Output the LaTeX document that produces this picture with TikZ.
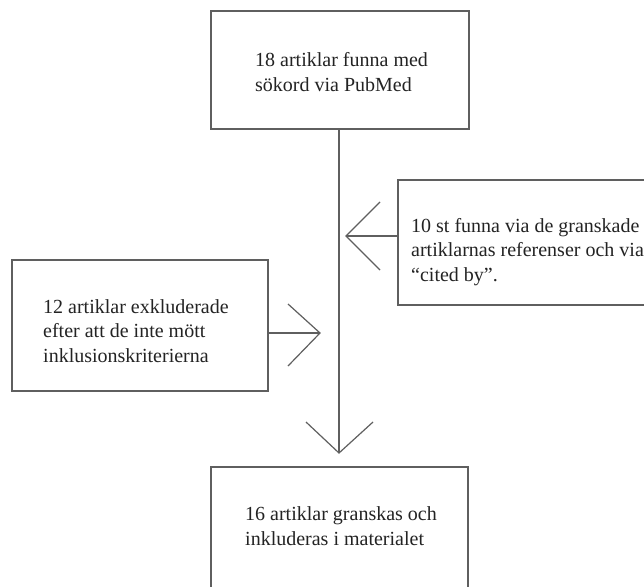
\documentclass[tikz,border=0pt]{standalone}
\usepackage{fontspec}
\setmainfont{Liberation Serif}
\definecolor{linegray}{RGB}{95,95,95}
\definecolor{textgray}{RGB}{35,35,35}
\tikzset{
  boxline/.style={draw=linegray, line width=1.4pt},
  conn/.style={draw=linegray, line width=1.4pt},
  wing/.style={draw=linegray, line width=1.2pt, line join=miter},
  boxtext/.style={anchor=base west, inner sep=0pt, align=left, text=textgray,
    font=\fontsize{20}{24.5}\selectfont},
}
\begin{document}
\begin{tikzpicture}[x=1pt, y=-1pt]
\useasboundingbox (0,0) rectangle (644,586);
\fill[white] (0,0) rectangle (644,586);
\clip (0,0) rectangle (644,586);
% boxes
\draw[boxline] (211,11) rectangle (469,129);
\draw[boxline] (398,180) rectangle (660,305);
\draw[boxline] (12,260) rectangle (268,391);
\draw[boxline] (211,467) rectangle (468,600);
% anchors for connectors
\coordinate (topbot) at (339,129);
\coordinate (downtip) at (339,453);
\coordinate (rightin) at (398,236);
\coordinate (lefttip) at (346,236);
\coordinate (leftout) at (268,333);
\coordinate (righttip) at (320,333);
% texts (anchored at the baseline of the last line)
\node[boxtext] (t1) at (255,91) {18 artiklar funna med\\sökord via PubMed};
\node[boxtext] (t2) at (411,281) {10 st funna via de granskade\\artiklarnas referenser och via\\“cited by”.};
\node[boxtext] (t3) at (43,362) {12 artiklar exkluderade\\efter att de inte mött\\inklusionskriterierna};
\node[boxtext] (t4) at (245,545) {16 artiklar granskas och\\inkluderas i materialet};
% connectors
\draw[conn] (topbot) -- (downtip);
\draw[wing] (306,422) -- (downtip) -- (373,422);
\draw[conn] (rightin) -- (lefttip);
\draw[wing] (380,202) -- (lefttip) -- (380,270);
\draw[conn] (leftout) -- (righttip);
\draw[wing] (288,304) -- (righttip) -- (288,366);
\end{tikzpicture}
\end{document}
